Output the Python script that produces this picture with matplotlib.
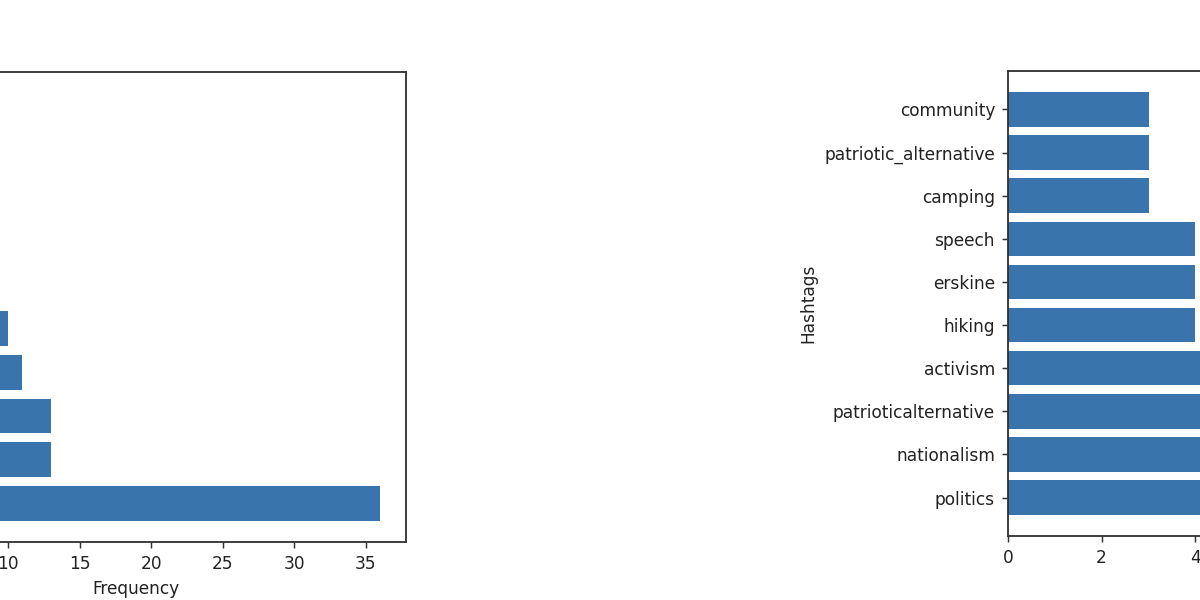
import matplotlib
matplotlib.use("Agg")
import matplotlib.pyplot as plt

# Left panel (only the right part is visible in the crop)
left_tags = ["tag_a", "tag_b", "tag_c", "tag_d", "tag_e",
             "tag_f", "tag_g", "tag_h", "tag_i", "tag_j"]
left_counts = [36, 13, 13, 11, 10, 9, 8, 8, 7, 7]

# Right panel (only the left part is visible in the crop)
right_tags = ["politics", "nationalism", "patrioticalternative", "activism",
              "hiking", "erskine", "speech", "camping",
              "patriotic_alternative", "community"]
right_counts = [11, 8, 6, 5, 4, 4, 4, 3, 3, 3]

bar_color = "#3a74ad"

plt.rcParams.update({
    "font.size": 9.2,
    "text.color": "#222222",
    "axes.labelcolor": "#222222",
    "xtick.color": "#333333",
    "ytick.color": "#333333",
    "xtick.labelcolor": "#222222",
    "ytick.labelcolor": "#222222",
    "axes.edgecolor": "#333333",
    "axes.linewidth": 1.0,
})

W, H = 1200, 600
fig = plt.figure(figsize=(9, 4.5), dpi=400 / 3)

def px_axes(x0, y_top, x1, y_bot):
    return fig.add_axes([x0 / W, (H - y_bot) / H, (x1 - x0) / W, (y_bot - y_top) / H])

ax1 = px_axes(-135, 72, 406, 542)
ax1.barh(left_tags, left_counts, color=bar_color)
ax1.set_xlabel("Frequency")
ax1.set_ylabel("Hashtags")

ax2 = px_axes(1008, 71, 1549, 536)
ax2.barh(right_tags, right_counts, color=bar_color)
ax2.set_xlabel("Frequency")
ax2.set_ylabel("Hashtags")

fig.savefig("out.png", dpi=400 / 3)
